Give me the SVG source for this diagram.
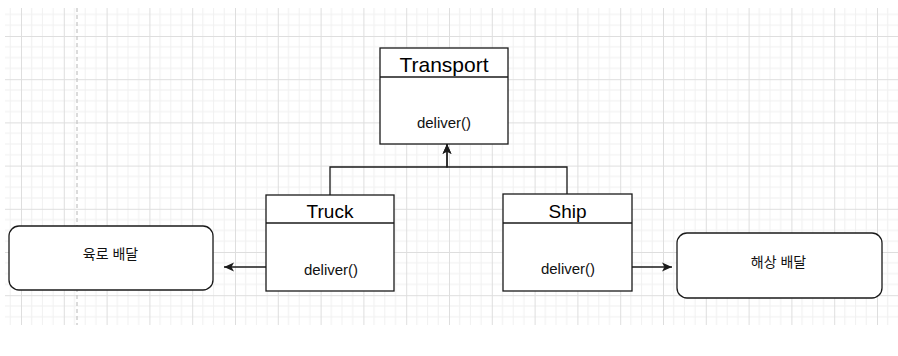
<svg xmlns="http://www.w3.org/2000/svg" width="898" height="356" viewBox="0 0 898 356">
<style>
.box{fill:#fff;stroke:#1a1a1a;stroke-width:1.3}
.conn{fill:none;stroke:#1a1a1a;stroke-width:1.3}
.title{font-family:"Liberation Sans",Arial,sans-serif;fill:#000;text-anchor:middle}
.meth{font-family:"Liberation Sans",Arial,sans-serif;font-size:15px;fill:#111;text-anchor:middle}
.ko{font-family:"Liberation Sans","Noto Sans CJK KR",sans-serif;font-size:14px;fill:#111;text-anchor:middle;dominant-baseline:central}
</style>
<defs>
<pattern id="grid" patternUnits="userSpaceOnUse" x="21" y="36" width="42.8" height="43.2">
<g stroke="#f0f0f0" stroke-width="1">
<line x1="10.7" y1="0" x2="10.7" y2="43.2"/>
<line x1="21.4" y1="0" x2="21.4" y2="43.2"/>
<line x1="32.1" y1="0" x2="32.1" y2="43.2"/>
<line x1="0" y1="10.8" x2="42.8" y2="10.8"/>
<line x1="0" y1="21.6" x2="42.8" y2="21.6"/>
<line x1="0" y1="32.4" x2="42.8" y2="32.4"/>
</g>
<g stroke="#dedede" stroke-width="1">
<line x1="0.5" y1="0" x2="0.5" y2="43.2"/>
<line x1="0" y1="0.5" x2="42.8" y2="0.5"/>
</g>
</pattern>
<marker id="arr" markerUnits="userSpaceOnUse" markerWidth="10" markerHeight="10" refX="10" refY="5" orient="auto">
<path d="M0,0.5 L10,5 L0,9.5 L2.5,5 z" fill="#1a1a1a"/>
</marker>
</defs>
<rect x="0" y="0" width="898" height="356" fill="#fff"/>
<rect x="5" y="8" width="893" height="317" fill="url(#grid)"/>
<line x1="77" y1="8" x2="77" y2="325" stroke="#c4c4c4" stroke-width="1.2" stroke-dasharray="4,3"/>

<g id="connectors">
<path class="conn" d="M330,195 V167 H447 V144" marker-end="url(#arr)"/>
<path class="conn" d="M567,194 V167 H447 V144" marker-end="url(#arr)"/>
<path class="conn" d="M266,267 H224" marker-end="url(#arr)"/>
<path class="conn" d="M632,267 H672" marker-end="url(#arr)"/>
</g>

<g id="transport">
<rect class="box" x="380" y="48" width="128" height="96"/>
<line class="conn" x1="380" y1="77" x2="508" y2="77"/>
<text class="title" x="444" y="72" font-size="21">Transport</text>
<text class="meth" x="444" y="128">deliver()</text>
</g>

<g id="truck">
<rect class="box" x="266" y="195" width="128" height="96"/>
<line class="conn" x1="266" y1="223" x2="394" y2="223"/>
<text class="title" x="330" y="217.5" font-size="19">Truck</text>
<text class="meth" x="331" y="274.5">deliver()</text>
</g>

<g id="ship">
<rect class="box" x="503" y="194" width="129" height="97"/>
<line class="conn" x1="503" y1="223" x2="632" y2="223"/>
<text class="title" x="567.5" y="217.5" font-size="19">Ship</text>
<text class="meth" x="568" y="273.5">deliver()</text>
</g>

<g id="land">
<rect class="box" x="9" y="226" width="204" height="64" rx="10" ry="10"/>
<text class="ko" x="110.5" y="254">육로 배달</text>
</g>

<g id="sea">
<rect class="box" x="677" y="233" width="205" height="65" rx="10" ry="10"/>
<text class="ko" x="778.5" y="262">해상 배달</text>
</g>
</svg>
